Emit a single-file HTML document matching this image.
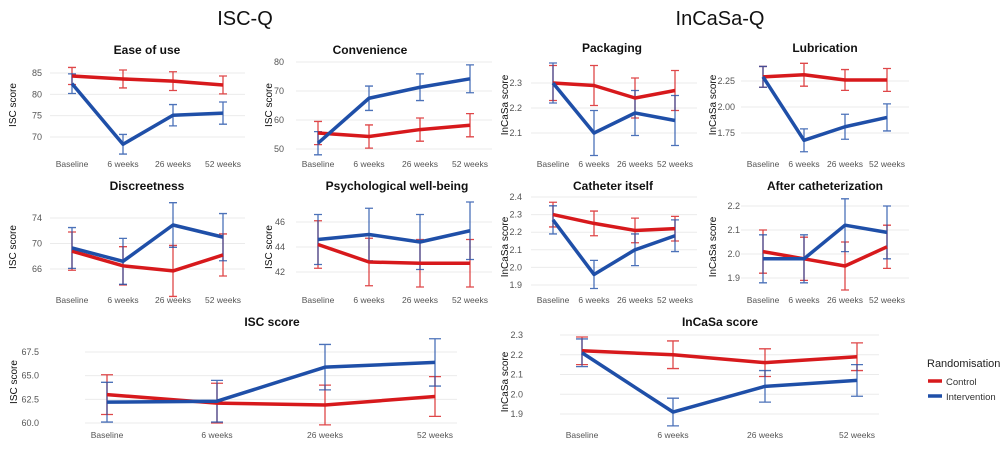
<!DOCTYPE html>
<html><head><meta charset="utf-8"><style>
html,body{margin:0;padding:0;background:#fff;}
svg{display:block;font-family:"Liberation Sans",sans-serif;}
</style></head><body>
<svg id="c" width="1005" height="451" viewBox="0 0 1005 451">
<text x="245" y="25" font-size="20" text-anchor="middle" fill="#111">ISC-Q</text>
<text x="720" y="25" font-size="20" text-anchor="middle" fill="#111">InCaSa-Q</text>
<g>
<text x="927" y="367" font-size="11" fill="#222">Randomisation</text>
<line x1="928" y1="381" x2="942" y2="381" stroke="#d7191c" stroke-width="3.5"/>
<text x="946" y="385" font-size="9.5" fill="#333">Control</text>
<line x1="928" y1="396" x2="942" y2="396" stroke="#1f4fa8" stroke-width="3.5"/>
<text x="946" y="400" font-size="9.5" fill="#333">Intervention</text>
</g>
</svg>
<script>
const categories=["Baseline","6 weeks","26 weeks","52 weeks"];
const easeCtrl=[84.3,83.6,83.1,82.2], easeCtrlErr=[2,2.1,2.2,2.1];
const easeInt=[82.5,68.3,75.1,75.6], easeIntErr=[2.3,2.3,2.5,2.6];
const convCtrl=[55.5,54.3,56.7,58.2], convCtrlErr=[4,4,4,4];
const convInt=[52,67.5,71.3,74.2], convIntErr=[4,4.2,4.6,4.8];
const packCtrl=[2.30,2.29,2.24,2.27], packCtrlErr=[0.07,0.08,0.08,0.08];
const packInt=[2.30,2.10,2.18,2.15], packIntErr=[0.08,0.09,0.09,0.1];
const lubCtrl=[2.29,2.31,2.26,2.26], lubCtrlErr=[0.1,0.11,0.1,0.11];
const lubInt=[2.29,1.68,1.81,1.90], lubIntErr=[0.1,0.11,0.12,0.13];
const discCtrl=[68.8,66.5,65.7,68.2], discCtrlErr=[3,3,4,3.3];
const discInt=[69.3,67.2,72.9,71], discIntErr=[3.2,3.6,3.5,3.7];
const psyCtrl=[44.2,42.8,42.7,42.7], psyCtrlErr=[1.9,1.9,1.9,1.9];
const psyInt=[44.6,45.0,44.4,45.3], psyIntErr=[2.0,2.1,2.2,2.3];
const cathCtrl=[2.30,2.25,2.21,2.22], cathCtrlErr=[0.07,0.07,0.07,0.07];
const cathInt=[2.27,1.96,2.10,2.18], cathIntErr=[0.08,0.08,0.09,0.09];
const afterCtrl=[2.01,1.98,1.95,2.03], afterCtrlErr=[0.09,0.09,0.1,0.09];
const afterInt=[1.98,1.98,2.12,2.09], afterIntErr=[0.1,0.1,0.11,0.11];
const iscCtrl=[63,62.1,61.9,62.8], iscCtrlErr=[2.1,2.1,2.1,2.1];
const iscInt=[62.2,62.3,65.9,66.4], iscIntErr=[2.1,2.2,2.4,2.5];
const incCtrl=[2.22,2.20,2.16,2.19], incCtrlErr=[0.07,0.07,0.07,0.07];
const incInt=[2.21,1.91,2.04,2.07], incIntErr=[0.07,0.07,0.08,0.08];
const easeTicks=[70,75,80,85], convTicks=[50,60,70,80], packTicks=[2.1,2.2,2.3], lubTicks=[1.75,2.00,2.25];
const discTicks=[66,70,74], psyTicks=[42,44,46], cathTicks=[1.9,2.0,2.1,2.2,2.3,2.4], afterTicks=[1.9,2.0,2.1,2.2];
const iscTicks=[60.0,62.5,65.0,67.5], incTicks=[1.9,2.0,2.1,2.2,2.3];

const svg=document.getElementById('c');
const NS='http://www.w3.org/2000/svg';
function mk(tag,attrs,parent){const e=document.createElementNS(NS,tag);for(const k in attrs)e.setAttribute(k,attrs[k]);parent.appendChild(e);return e;}

function panel(p){
  const g=mk('g',{},svg);
  
  
  const xs=p.xs;
  const y=v=>p.p0+(v-p.v0)*(p.p1-p.p0)/(p.v1-p.v0);
  const gx0=xs[0]-22, gx1=xs[3]+22;
  p.ticks.forEach((t,i)=>{
    const gl=mk('line',{x1:gx0,x2:gx1,y1:y(t),y2:y(t),stroke:'#ebebeb','stroke-width':1},g);
    
    
    const tl=mk('text',{x:p.tx,y:y(t)+3,'font-size':9,'text-anchor':'end',fill:'#555'},g);
    tl.textContent=p.fmt?p.fmt(t):String(t);
    
    
  });
  categories.forEach((c,i)=>{
    const t=mk('text',{x:xs[i],y:p.xy,'font-size':8.5,'text-anchor':'middle',fill:'#555'},g);
    t.textContent=c;
    
    
  });
  const tt=mk('text',{x:p.titleX,y:p.titleY,'font-size':12,'font-weight':'bold','text-anchor':'middle',fill:'#111'},g);
  tt.textContent=p.title;
  
  
  const yl=mk('text',{x:0,y:0,'font-size':10,'text-anchor':'middle',fill:'#111',transform:`translate(${p.ylx},${p.yly}) rotate(-90)`},g);
  yl.textContent=p.ylabel;
  
  
  [[p.ctrl,p.ctrlErr,'#d7191c','control'],[p.int,p.intErr,'#1f4fa8','intervention']].forEach(([vals,errs,col,nm])=>{
    vals.forEach((v,i)=>{
      const e=mk('path',{d:`M${xs[i]-p.cap},${y(v+errs[i])}H${xs[i]+p.cap}M${xs[i]},${y(v+errs[i])}V${y(v-errs[i])}M${xs[i]-p.cap},${y(v-errs[i])}H${xs[i]+p.cap}`,stroke:col,'stroke-width':1.3,fill:'none',opacity:0.8},g);
      
      
    });
  });
  [[p.ctrl,'#d7191c','control'],[p.int,'#1f4fa8','intervention']].forEach(([vals,col,nm])=>{
    const l=mk('polyline',{points:vals.map((v,i)=>xs[i]+','+y(v)).join(' '),stroke:col,'stroke-width':3.5,fill:'none','stroke-linejoin':'round'},g);
    
    
  });
}
const xA=[72,123,173,223], xB=[318,369,420,470], xC=[553,594,635,675], xD=[763,804,845,887];
const f1=t=>t.toFixed(1), f2=t=>t.toFixed(2);
panel({name:'ease-of-use-panel',title:'Ease of use',titleX:147,titleY:54,xs:xA,xy:167,ticks:easeTicks,v0:85,p0:73,v1:70,p1:137,tx:42,ylabel:'ISC score',ylx:16,yly:105,ctrl:easeCtrl,ctrlErr:easeCtrlErr,int:easeInt,intErr:easeIntErr,cap:4});
panel({name:'convenience-panel',title:'Convenience',titleX:370,titleY:54,xs:xB,xy:167,ticks:convTicks,v0:80,p0:62,v1:50,p1:149,tx:284,ylabel:'ISC score',ylx:272,yly:105,ctrl:convCtrl,ctrlErr:convCtrlErr,int:convInt,intErr:convIntErr,cap:4});
panel({name:'packaging-panel',title:'Packaging',titleX:612,titleY:52,xs:xC,xy:167,ticks:packTicks,v0:2.3,p0:83,v1:2.1,p1:133,tx:522,fmt:f1,ylabel:'InCaSa score',ylx:508,yly:105,ctrl:packCtrl,ctrlErr:packCtrlErr,int:packInt,intErr:packIntErr,cap:4});
panel({name:'lubrication-panel',title:'Lubrication',titleX:825,titleY:52,xs:xD,xy:167,ticks:lubTicks,v0:2.25,p0:81,v1:1.75,p1:133,tx:735,fmt:f2,ylabel:'InCaSa score',ylx:716,yly:105,ctrl:lubCtrl,ctrlErr:lubCtrlErr,int:lubInt,intErr:lubIntErr,cap:4});
panel({name:'discreetness-panel',title:'Discreetness',titleX:147,titleY:190,xs:xA,xy:303,ticks:discTicks,v0:74,p0:218,v1:66,p1:269,tx:42,ylabel:'ISC score',ylx:16,yly:247,ctrl:discCtrl,ctrlErr:discCtrlErr,int:discInt,intErr:discIntErr,cap:4});
panel({name:'psychological-well-being-panel',title:'Psychological well-being',titleX:397,titleY:190,xs:xB,xy:303,ticks:psyTicks,v0:46,p0:222,v1:42,p1:272,tx:285,ylabel:'ISC score',ylx:272,yly:247,ctrl:psyCtrl,ctrlErr:psyCtrlErr,int:psyInt,intErr:psyIntErr,cap:4});
panel({name:'catheter-itself-panel',title:'Catheter itself',titleX:613,titleY:190,xs:xC,xy:303,ticks:cathTicks,v0:2.4,p0:197,v1:1.9,p1:285,tx:522,fmt:f1,ylabel:'InCaSa score',ylx:508,yly:247,ctrl:cathCtrl,ctrlErr:cathCtrlErr,int:cathInt,intErr:cathIntErr,cap:4});
panel({name:'after-catheterization-panel',title:'After catheterization',titleX:825,titleY:190,xs:xD,xy:303,ticks:afterTicks,v0:2.2,p0:206,v1:1.9,p1:278,tx:740,fmt:f1,ylabel:'InCaSa score',ylx:716,yly:247,ctrl:afterCtrl,ctrlErr:afterCtrlErr,int:afterInt,intErr:afterIntErr,cap:4});
panel({name:'isc-score-panel',title:'ISC score',titleX:272,titleY:326,xs:[107,217,325,435],xy:438,ticks:iscTicks,v0:67.5,p0:352,v1:60,p1:423,tx:39,fmt:f1,ylabel:'ISC score',ylx:17,yly:382,ctrl:iscCtrl,ctrlErr:iscCtrlErr,int:iscInt,intErr:iscIntErr,cap:6});
panel({name:'incasa-score-panel',title:'InCaSa score',titleX:720,titleY:326,xs:[582,673,765,857],xy:438,ticks:incTicks,v0:2.3,p0:335,v1:1.9,p1:414,tx:523,fmt:f1,ylabel:'InCaSa score',ylx:508,yly:382,ctrl:incCtrl,ctrlErr:incCtrlErr,int:incInt,intErr:incIntErr,cap:6});
</script>
</body></html>
